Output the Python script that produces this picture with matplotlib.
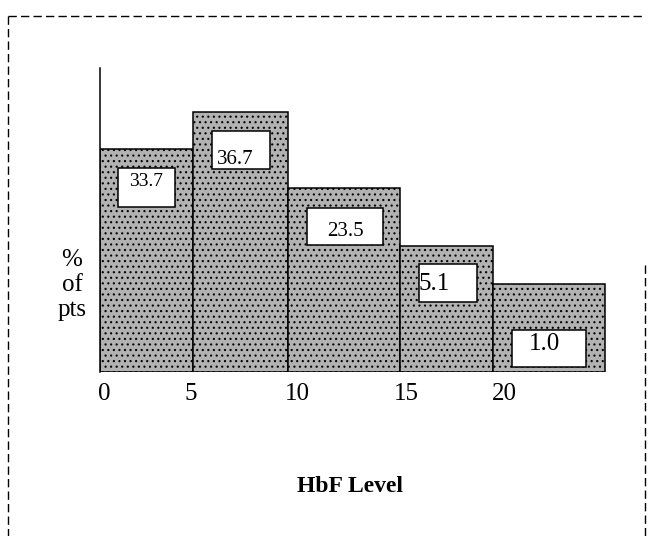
import matplotlib
matplotlib.use("Agg")
import matplotlib.pyplot as plt
from matplotlib.patches import Rectangle
from matplotlib.lines import Line2D

# ---- data ----
bin_edges = [0, 4.9, 9.9, 15.8, 20.7, 26.6]          # drawn bar edges (axis units)
bar_heights = [22.3, 26.0, 18.4, 12.6, 8.8]          # drawn bar heights (axis units)
pct_values = ["33.7", "36.7", "23.5", "5.1", "1.0"]  # % of pts printed in boxes
tick_pos = [0.2, 4.8, 10.4, 16.1, 21.3]
tick_labels = ["0", "5", "10", "15", "20"]

# ---- label boxes layout (x0, x1, y0, y1) and text anchor, font size ----
boxes = [(0.95, 3.95, 16.5, 20.4), (5.9, 8.95, 20.3, 24.1), (10.9, 14.9, 12.7, 16.4),
         (16.8, 19.85, 7.0, 10.8), (21.7, 25.6, 0.5, 4.2)]
text_xy = [(2.4, 19.0), (7.1, 21.2), (12.9, 14.1), (17.6, 8.8), (23.4, 2.8)]
text_fs = [14, 15, 15, 18, 18]

plt.rcParams["hatch.color"] = "#7a7a7a"
plt.rcParams["hatch.linewidth"] = 0.8

W, H = 653, 536
fig = plt.figure(figsize=(W / 100, H / 100), dpi=100)
serif = ["Liberation Serif", "DejaVu Serif"]

ax = fig.add_axes([100 / W, (536 - 372) / H, 520 / W, 304 / H])
ax.set_xlim(0, 520 / 19)
ax.set_ylim(0, 30.4)

for i in range(len(bar_heights)):
    x0, x1 = bin_edges[i], bin_edges[i + 1]
    ax.bar(x0, bar_heights[i], width=x1 - x0, align="edge", color="#b2b2b2",
           edgecolor="black", linewidth=1.1, hatch="...", zorder=2)

for (bx0, bx1, by0, by1), (tx, ty), lab, fs in zip(boxes, text_xy, pct_values, text_fs):
    ax.add_patch(Rectangle((bx0, by0), bx1 - bx0, by1 - by0, facecolor="white",
                           edgecolor="black", linewidth=1.1, zorder=3))
    ax.text(tx, ty, lab, ha="center", va="center", fontsize=fs, family=serif, zorder=4)

for s in ["top", "right", "bottom"]:
    ax.spines[s].set_visible(False)
ax.spines["left"].set_linewidth(1.1)
ax.set_yticks([])
ax.set_xticks(tick_pos)
ax.set_xticklabels(tick_labels, family=serif, fontsize=18)
ax.tick_params(axis="x", length=0, pad=8)
ax.set_facecolor("none")

fig.text(72 / W, 1 - 285 / H, "%\nof\npts", ha="center", va="center",
         fontsize=18, family=serif, linespacing=1.2)
fig.text(350 / W, 1 - 486 / H, "HbF Level", ha="center", va="center",
         fontsize=17, family=serif, fontweight="bold")

# dashed outer frame of the scanned figure
fr = dict(color="black", linewidth=1.0, linestyle=(0, (6, 3)), transform=fig.transFigure)
fig.add_artist(Line2D([8 / W, 645 / W], [1 - 16 / H, 1 - 16 / H], **fr))
fig.add_artist(Line2D([8 / W, 8 / W], [1 - 16 / H, 0], **fr))
fig.add_artist(Line2D([645 / W, 645 / W], [1 - 265 / H, 0], **fr))

fig.savefig("out.png", dpi=100)
